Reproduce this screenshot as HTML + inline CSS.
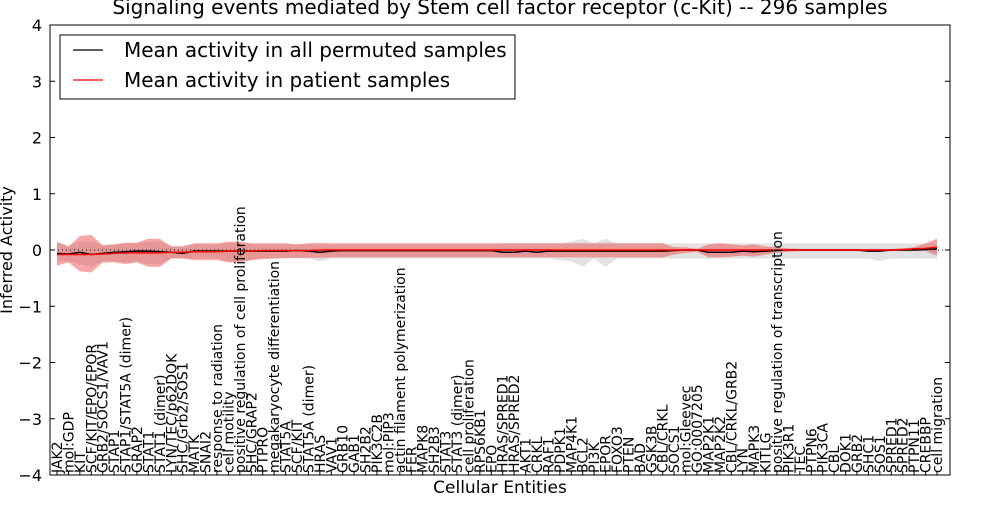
<!DOCTYPE html>
<html><head><meta charset="utf-8"><style>
body{margin:0;background:#fff;}
svg text{font-family:"DejaVu Sans","Liberation Sans",sans-serif;}
</style></head><body>
<svg id="chart" width="1000" height="500" xmlns="http://www.w3.org/2000/svg">
<text x="500" y="14" text-anchor="middle" font-size="20">Signaling events mediated by Stem cell factor receptor (c-Kit) -- 296 samples</text>
<g id="bands"></g>
<g id="lines"></g>
<rect x="50" y="25" width="900" height="450" fill="none" stroke="#000" stroke-width="1"/>
<g id="yaxis"></g>
<g id="xaxis"></g>
<text transform="translate(12,250) rotate(-90)" text-anchor="middle" font-size="16">Inferred Activity</text>
<text x="500" y="493" text-anchor="middle" font-size="17">Cellular Entities</text>
<g>
<rect x="60" y="35" width="455" height="64" fill="#fff" stroke="#000"/>
<line x1="73" y1="50" x2="103" y2="50" stroke="#000" stroke-width="1.2"/>
<text x="124" y="57" font-size="20">Mean activity in all permuted samples</text>
<line x1="73" y1="80" x2="103" y2="80" stroke="#f00" stroke-width="1.2"/>
<text x="124" y="87" font-size="20">Mean activity in patient samples</text>
</g>
</svg>
<script>
const categories=["JAK2","mol:GDP","KIT","SCF/KIT/EPO/EPOR","GRB2/SOCS1/VAV1","STAP1","STAP1/STAT5A (dimer)","GRAP2","STAT1","STAT1 (dimer)","LYN/TEC/p62DOK","SHC/Grb2/SOS1","MATK","SNAI2","response to radiation","cell motility","positive regulation of cell proliferation","SHC/GRAP2","PTPRO","megakaryocyte differentiation","STAT5A","SCF/KIT","STAT5A (dimer)","HRAS","VAV1","GRB10","GAB1","SH2B2","PIK3C2B","mol:PIP3","actin filament polymerization","FER","MAPK8","SH2B3","STAT3","STAT3 (dimer)","cell proliferation","RPS6KB1","EPO","HRAS/SPRED1","HRAS/SPRED2","AKT1","CRKL","RAF1","PDPK1","MAP4K1","BCL2","PI3K","EPOR","FOXO3","PTEN","BAD","GSK3B","CBL/CRKL","SOCS1","mol:Gleevec","GO:0007205","MAP2K1","MAP2K2","CBL/CRKL/GRB2","LYN","MAPK3","KITLG","positive regulation of transcription","PIK3R1","TEC","PTPN6","PIK3CA","CBL","DOK1","GRB2","SHC1","SOS1","SPRED1","SPRED2","PTPN11","CREBBP","cell migration"];
const patientMean=[-0.08,-0.08,-0.08,-0.08,-0.07,-0.06,-0.05,-0.05,-0.05,-0.05,-0.04,-0.04,-0.03,-0.03,-0.03,-0.02,-0.02,-0.02,-0.01,-0.01,-0.01,-0.01,-0.01,0,0,0,0,0,0,0,0,0,0,0,0,0,0,0,0,0,0,0,0,0,0,0,0,0,0,0,0,0,0,0,0,0,0,0,0,0,0,0,0,0,0,0,0,0,0,0,0,0,0,0,0.01,0.02,0.03,0.05];
const permMean=[-0.06,-0.07,-0.04,-0.08,-0.06,-0.04,-0.03,-0.02,-0.02,-0.03,-0.04,-0.06,-0.02,-0.02,-0.02,-0.02,-0.02,-0.02,-0.02,-0.02,-0.02,-0.01,-0.02,-0.04,-0.02,-0.01,-0.01,-0.01,-0.01,-0.01,-0.01,-0.01,-0.01,-0.01,-0.01,-0.01,-0.01,-0.01,-0.01,-0.04,-0.04,-0.02,-0.04,-0.02,-0.02,-0.02,-0.02,-0.02,-0.02,-0.02,-0.02,-0.02,-0.02,-0.02,-0.01,0,0,-0.04,-0.04,-0.04,-0.02,-0.03,-0.02,-0.01,0,0,0,0,0,0,0,-0.02,-0.02,0,0,0,0.01,0.02];
const redUpper=[0.15,0.06,0.25,0.27,0.08,0.1,0.13,0.13,0.2,0.2,0.06,0.06,0.12,0.12,0.12,0.15,0.15,0.12,0.12,0.12,0.12,0.1,0.12,0.13,0.12,0.12,0.12,0.12,0.12,0.12,0.12,0.12,0.12,0.12,0.12,0.12,0.12,0.12,0.12,0.12,0.12,0.12,0.12,0.12,0.12,0.12,0.12,0.12,0.12,0.12,0.12,0.12,0.12,0.12,0.05,0.05,0.02,0.1,0.12,0.1,0.08,0.1,0.06,0.05,0.03,0.02,0.02,0.02,0.02,0.02,0.02,0.02,0.02,0.02,0.03,0.05,0.12,0.2];
const redLower=[-0.28,-0.22,-0.38,-0.4,-0.22,-0.22,-0.25,-0.22,-0.3,-0.3,-0.15,-0.15,-0.18,-0.18,-0.18,-0.22,-0.22,-0.18,-0.16,-0.15,-0.14,-0.14,-0.14,-0.14,-0.13,-0.13,-0.13,-0.13,-0.13,-0.13,-0.13,-0.13,-0.13,-0.13,-0.13,-0.13,-0.13,-0.13,-0.13,-0.13,-0.13,-0.13,-0.13,-0.13,-0.13,-0.13,-0.13,-0.13,-0.13,-0.13,-0.13,-0.13,-0.13,-0.13,-0.08,-0.05,-0.03,-0.13,-0.13,-0.12,-0.1,-0.12,-0.08,-0.05,-0.03,-0.02,-0.02,-0.02,-0.02,-0.02,-0.02,-0.02,-0.02,-0.02,-0.02,-0.02,-0.02,-0.1];
const grayUpper=[0.12,0.08,0.15,0.15,0.1,0.1,0.12,0.12,0.15,0.15,0.08,0.08,0.1,0.1,0.1,0.12,0.12,0.1,0.1,0.1,0.1,0.1,0.1,0.1,0.1,0.1,0.1,0.1,0.1,0.1,0.1,0.1,0.1,0.1,0.1,0.1,0.1,0.1,0.1,0.12,0.12,0.12,0.12,0.12,0.12,0.15,0.2,0.12,0.2,0.12,0.12,0.12,0.12,0.12,0.12,0.12,0.12,0.12,0.12,0.12,0.12,0.12,0.12,0.12,0.12,0.12,0.12,0.12,0.12,0.12,0.12,0.12,0.12,0.12,0.12,0.12,0.12,0.12];
const grayLower=[-0.2,-0.2,-0.25,-0.3,-0.2,-0.2,-0.22,-0.2,-0.25,-0.25,-0.15,-0.15,-0.15,-0.15,-0.15,-0.2,-0.2,-0.18,-0.15,-0.15,-0.15,-0.15,-0.15,-0.2,-0.15,-0.15,-0.15,-0.15,-0.15,-0.15,-0.15,-0.15,-0.15,-0.15,-0.15,-0.15,-0.15,-0.15,-0.15,-0.15,-0.15,-0.15,-0.15,-0.15,-0.18,-0.2,-0.3,-0.15,-0.3,-0.15,-0.15,-0.15,-0.15,-0.15,-0.15,-0.15,-0.15,-0.15,-0.15,-0.15,-0.15,-0.15,-0.15,-0.15,-0.15,-0.15,-0.15,-0.15,-0.15,-0.15,-0.15,-0.15,-0.2,-0.15,-0.15,-0.15,-0.15,-0.15];
const yTicks=[-4,-3,-2,-1,0,1,2,3,4];

const NS="http://www.w3.org/2000/svg";
const X0=50,X1=950,Y0=25,Y1=475;
const xs=i=>57+i*(880/(categories.length-1));
const ys=v=>250-v*(Y1-Y0)/8;
function mk(t,a){const e=document.createElementNS(NS,t);for(const k in a)e.setAttribute(k,a[k]);return e;}
function band(up,lo,fill,name){
  let d="M"+up.map((v,i)=>xs(i)+","+ys(v)).join("L");
  for(let i=lo.length-1;i>=0;i--)d+="L"+xs(i)+","+ys(lo[i]);
  const p=mk("path",{d:d+"Z",fill:fill});
  
  
  document.getElementById("bands").appendChild(p);
}
band(grayUpper,grayLower,"rgba(190,190,190,0.45)","permuted-band");
band(redUpper,redLower,"rgba(240,60,60,0.45)","patient-band");
const L=document.getElementById("lines");
const zl=mk("line",{x1:X0,x2:X1,y1:ys(0),y2:ys(0),stroke:"#000","stroke-dasharray":"1,3"});


L.appendChild(zl);
function line(vals,color,name){
  const p=mk("polyline",{points:vals.map((v,i)=>xs(i)+","+ys(v)).join(" "),fill:"none",stroke:color,"stroke-width":1.5});
  
  
  L.appendChild(p);
}
line(permMean,"#000","permuted-mean-line");
line(patientMean,"#f00","patient-mean-line");
const YA=document.getElementById("yaxis");
yTicks.forEach(v=>{
  const y=ys(v);
  YA.appendChild(mk("line",{x1:X0,x2:X0+5,y1:y,y2:y,stroke:"#000"}));
  YA.appendChild(mk("line",{x1:X1-5,x2:X1,y1:y,y2:y,stroke:"#000"}));
  const t=mk("text",{x:X0-8,y:y+6,"text-anchor":"end","font-size":16});
  t.textContent=(v<0?"\u2212"+(-v):v);
  
  
  YA.appendChild(t);
});
const XA=document.getElementById("xaxis");
categories.forEach((c,i)=>{
  const x=xs(i);
  XA.appendChild(mk("line",{x1:x,x2:x,y1:Y1,y2:Y1-4,stroke:"#000"}));
  const t=mk("text",{transform:"translate("+(x+5)+","+(Y1-2)+") rotate(-90)","font-size":14});
  t.textContent=c;
  
  
  XA.appendChild(t);
});
</script>
</body></html>
